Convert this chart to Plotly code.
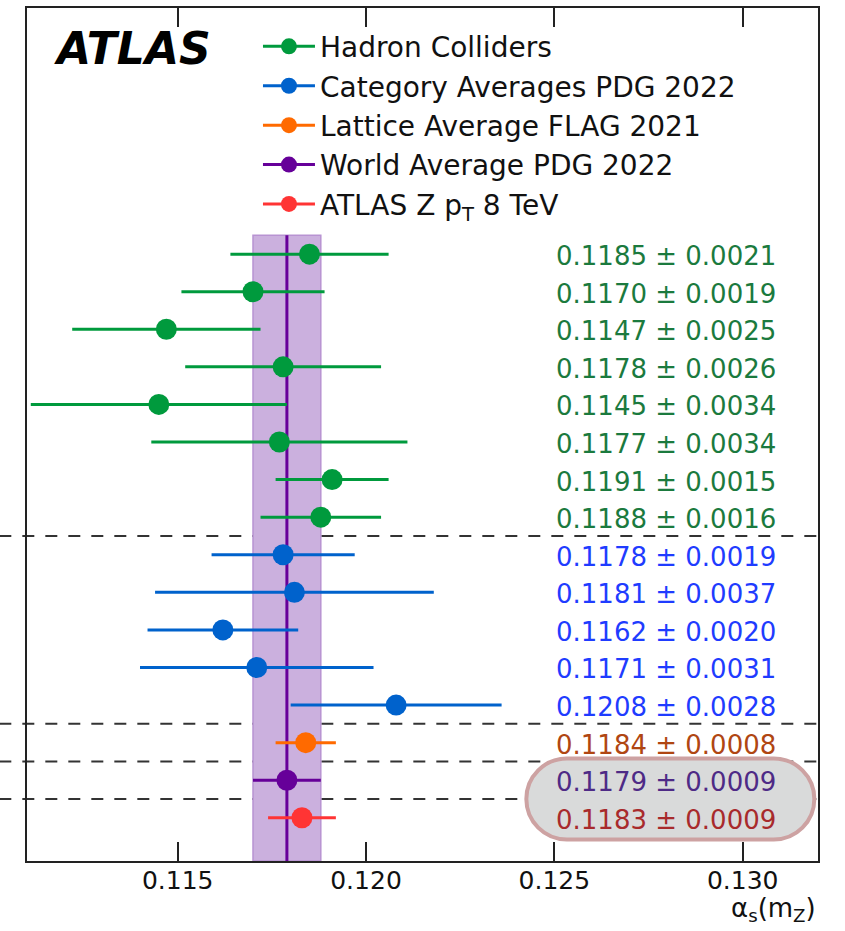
import plotly.graph_objects as go

# alpha_s(m_Z) determinations, listed top to bottom
hadron_vals = [0.1185, 0.1170, 0.1147, 0.1178, 0.1145, 0.1177, 0.1191, 0.1188]
hadron_errs = [0.0021, 0.0019, 0.0025, 0.0026, 0.0034, 0.0034, 0.0015, 0.0016]

category_vals = [0.1178, 0.1181, 0.1162, 0.1171, 0.1208]
category_errs = [0.0019, 0.0037, 0.0020, 0.0031, 0.0028]

lattice_vals = [0.1184]
lattice_errs = [0.0008]

world_vals = [0.1179]
world_errs = [0.0009]

atlas_vals = [0.1183]
atlas_errs = [0.0009]

legend_names = [
    "Hadron Colliders",
    "Category Averages PDG 2022",
    "Lattice Average FLAG 2021",
    "World Average PDG 2022",
    "ATLAS Z p<sub>T</sub> 8 TeV",
]
marker_colors = ["#009a3d", "#0062cc", "#ff6a00", "#660099", "#ff3434"]
text_colors = ["#1b7a3e", "#1f3cff", "#b04612", "#4e2a86", "#a82a2c"]

x_ticks = [0.115, 0.120, 0.125, 0.130]
x_tick_text = ["0.115", "0.120", "0.125", "0.130"]
x_range = [0.111, 0.132]
y_range = [16.15, -6.55]  # rows run downwards

groups = [
    (hadron_vals, hadron_errs),
    (category_vals, category_errs),
    (lattice_vals, lattice_errs),
    (world_vals, world_errs),
    (atlas_vals, atlas_errs),
]

FONT = "DejaVu Sans"
fig = go.Figure()

# legend entries
for name, col in zip(legend_names, marker_colors):
    fig.add_trace(go.Scatter(
        x=[None], y=[None], mode="lines+markers", name=name,
        line=dict(color=col, width=3),
        marker=dict(size=21, color=col),
    ))

shapes = []
annotations = []

# world average band and central line
wa, wa_err = world_vals[0], world_errs[0]
shapes.append(dict(type="rect", xref="x", yref="y", layer="below",
                   x0=wa - wa_err, x1=wa + wa_err, y0=-0.5, y1=y_range[0],
                   fillcolor="#cbb0de", line=dict(color="#b893d2", width=1.5)))
shapes.append(dict(type="line", xref="x", yref="y", layer="below",
                   x0=wa, x1=wa, y0=-0.5, y1=y_range[0],
                   line=dict(color="#660099", width=3)))

# highlight capsule behind the last two values
r = 40.5
k = 0.5523 * r
L, R = -28, 260
capsule = (
    f"M{L + r},{r} L{R - r},{r} "
    f"C{R - r + k},{r} {R},{k} {R},0 "
    f"C{R},{-k} {R - r + k},{-r} {R - r},{-r} "
    f"L{L + r},{-r} "
    f"C{L + r - k},{-r} {L},{-k} {L},0 "
    f"C{L},{k} {L + r - k},{r} {L + r},{r} Z"
)

row = 0
separators = []
capsule_rows = []
for gi, ((vals, errs), mcol, tcol) in enumerate(zip(groups, marker_colors, text_colors)):
    rows = list(range(row, row + len(vals)))
    fig.add_trace(go.Scatter(
        x=vals, y=rows, mode="markers", showlegend=False,
        marker=dict(size=21, color=mcol),
        error_x=dict(type="data", array=errs, symmetric=True,
                     color=mcol, thickness=3, width=0),
    ))
    for v, e, yy in zip(vals, errs, rows):
        annotations.append(dict(
            x=0.125, y=yy, xref="x", yref="y", xanchor="left", yanchor="middle",
            text=f"{v:.4f} \u00b1 {e:.4f}", showarrow=False, yshift=-2,
            font=dict(family=FONT, size=26, color=tcol)))
    if gi >= 3:
        capsule_rows += rows
    row += len(vals)
    if gi < len(groups) - 1:
        separators.append(row - 0.5)

shapes.append(dict(type="path", xref="x", yref="y", layer="below",
                   xsizemode="pixel", ysizemode="pixel",
                   xanchor=0.125, yanchor=sum(capsule_rows) / len(capsule_rows),
                   path=capsule, fillcolor="#d9dada",
                   line=dict(color="#cda2a2", width=4)))

for s in separators:
    shapes.append(dict(type="line", xref="paper", yref="y", layer="below",
                       x0=-0.035, x1=1, y0=s, y1=s,
                       line=dict(color="#333333", width=2, dash="12px,11px")))

annotations.append(dict(
    x=0.031, y=0.952, xref="paper", yref="paper", xanchor="left", yanchor="middle",
    text="<b><i>ATLAS</i></b>", showarrow=False,
    font=dict(family=FONT, size=44, color="#000000")))

annotations.append(dict(
    x=1, y=-0.057, xref="paper", yref="paper", xanchor="right", yanchor="middle",
    text="\u03b1<sub>s</sub>(m<sub>Z</sub>)", showarrow=False,
    font=dict(family=FONT, size=26, color="#111111")))

fig.update_layout(
    width=845, height=931,
    margin=dict(l=27, r=27, t=6, b=70),
    paper_bgcolor="white", plot_bgcolor="white",
    shapes=shapes, annotations=annotations,
    showlegend=True,
    legend=dict(x=0.292, y=0.984, xanchor="left", yanchor="top",
                bgcolor="rgba(0,0,0,0)", borderwidth=0, itemwidth=52,
                font=dict(family=FONT, size=28, color="#111111")),
    xaxis=dict(range=x_range, tickvals=x_ticks, ticktext=x_tick_text,
               ticks="inside", ticklen=19, tickwidth=2, tickcolor="#222222",
               showline=True, linecolor="#222222", linewidth=2, mirror="ticks",
               showgrid=False, zeroline=False, ticklabelstandoff=-4,
               tickfont=dict(family=FONT, size=25, color="#111111")),
    yaxis=dict(range=y_range, showticklabels=False, ticks="",
               showline=True, linecolor="#222222", linewidth=2, mirror=True,
               showgrid=False, zeroline=False),
)

fig.write_html("out.html")
